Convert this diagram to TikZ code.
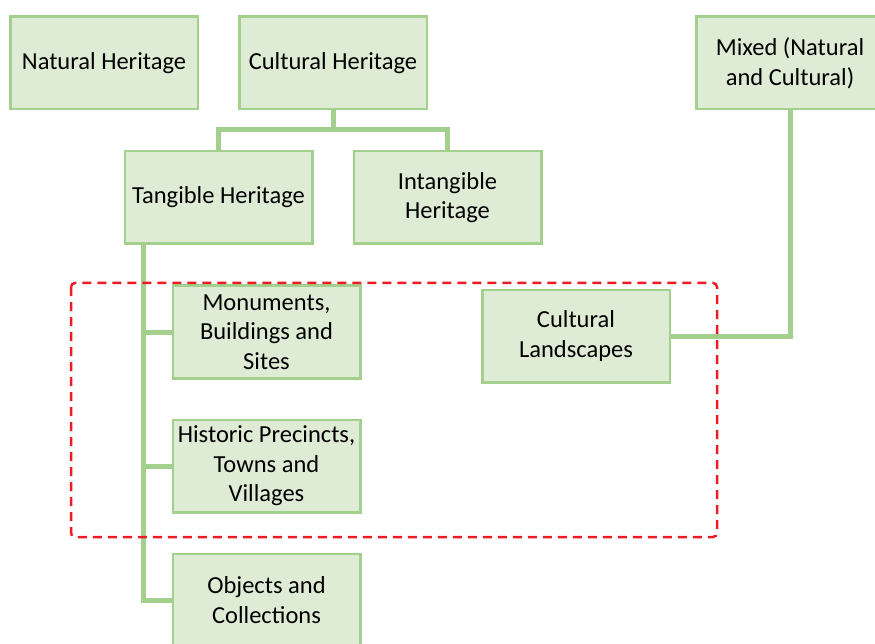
\documentclass[tikz,border=0pt]{standalone}
\usepackage{fontspec}
\setmainfont{Carlito}
\usetikzlibrary{positioning}
\definecolor{heritageFill}{RGB}{222,236,214}
\definecolor{heritageGreen}{RGB}{163,208,140}
\definecolor{heritageRed}{RGB}{237,28,36}

\begin{document}
\begin{tikzpicture}[x=1pt, y=-1pt, node distance=39pt]
    \tikzstyle{box} = [rectangle, draw=heritageGreen, line width=2.5pt, fill=heritageFill, minimum width=187.5pt, minimum height=92.5pt, inner sep=2pt, align=center, font=\fontsize{24.5}{29.5}\selectfont]
    \tikzstyle{link} = [heritageGreen, line width=5pt]
    \tikzstyle{zone} = [heritageRed, line width=2.5pt, dash pattern=on 9pt off 6pt, rounded corners=4pt]

    \clip (0,0) rectangle (875,644);

    \node[box] (cultural) at (333,63) {Cultural Heritage};
    \node[box, left=of cultural] (natural) {Natural Heritage};
    \node[box] (mixed) at (790,63) {Mixed (Natural\\and Cultural)};
    \node[box] (tangible) at (218.5,197.5) {Tangible Heritage};
    \node[box, right=of tangible] (intangible) {Intangible\\Heritage};
    \node[box] (monuments) at (266.5,332) {Monuments,\\Buildings and\\Sites};
    \node[box, below=of monuments] (precincts) {Historic Precincts,\\Towns and\\Villages};
    \node[box, below=of precincts] (objects) {Objects and\\Collections};
    \node[box] (landscapes) at (576,336) {Cultural\\Landscapes};

    \coordinate (split) at (333,130);
    \coordinate (trunk) at (143,245);

    \draw[link] (cultural) -- (split);
    \draw[link] (tangible.north) |- (split) -| (intangible.north);
    \draw[link] (trunk) |- (monuments.west);
    \draw[link] (trunk) |- (precincts.west);
    \draw[link] (trunk) |- (objects.west);
    \draw[link] (mixed.south) |- (landscapes.east);

    \draw[zone] (71,283) rectangle (717,537);
\end{tikzpicture}
\end{document}
